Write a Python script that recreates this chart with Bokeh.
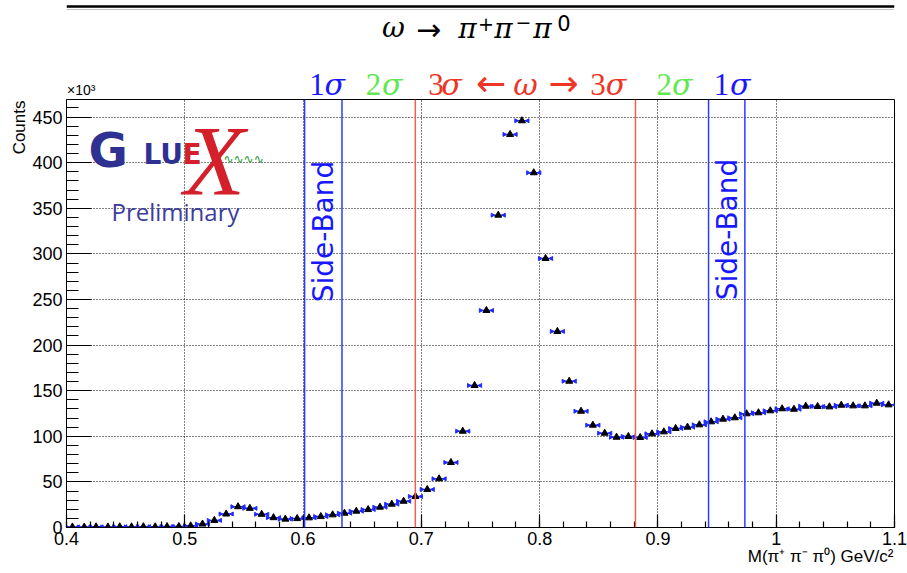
import math
import numpy as np
from bokeh.plotting import figure
from bokeh.layouts import column
from bokeh.models import Range1d, FixedTicker, Span, Label, ColumnDataSource, BoxAnnotation
from bokeh.embed import file_html
from bokeh.resources import INLINE

# ---------------- data (counts in units of 10^3) ----------------
bin_centers = [0.405, 0.415, 0.425, 0.435, 0.445, 0.455, 0.465, 0.475, 0.485, 0.495,
               0.505, 0.515, 0.525, 0.535, 0.545, 0.555, 0.565, 0.575, 0.585, 0.595,
               0.605, 0.615, 0.625, 0.635, 0.645, 0.655, 0.665, 0.675, 0.685, 0.695,
               0.705, 0.715, 0.725, 0.735, 0.745, 0.755, 0.765, 0.775, 0.785, 0.795,
               0.805, 0.815, 0.825, 0.835, 0.845, 0.855, 0.865, 0.875, 0.885, 0.895,
               0.905, 0.915, 0.925, 0.935, 0.945, 0.955, 0.965, 0.975, 0.985, 0.995,
               1.005, 1.015, 1.025, 1.035, 1.045, 1.055, 1.065, 1.075, 1.085, 1.095]
counts_k = [0.6, 0.5, 0.7, 0.6, 0.8, 0.7, 0.9, 0.8, 1.0, 1.1,
            1.8, 3.8, 7.8, 14.8, 22.8, 21.0, 14.5, 10.8, 9.2, 9.8,
            10.6, 12.0, 13.9, 15.7, 17.9, 19.7, 22.3, 25.6, 28.8, 34.0,
            41.7, 53.4, 71.3, 105.6, 155.7, 238.0, 342.5, 431.0, 446.0, 389.0,
            295.0, 215.0, 160.4, 127.5, 112.2, 103.4, 99.0, 99.8, 98.7, 102.7,
            104.9, 108.6, 110.0, 112.6, 115.9, 118.8, 120.3, 124.7, 125.8, 128.0,
            130.2, 129.7, 133.0, 132.7, 132.3, 134.1, 133.4, 133.4, 136.3, 134.5]
bin_half_width = 0.005

omega_3sigma_lines = [0.6949, 0.8810]
sideband_lines = [0.6013, 0.6329, 0.9428, 0.9735]

x_ticks = [0.4, 0.5, 0.6, 0.7, 0.8, 0.9, 1.0, 1.1]
x_tick_labels = ["0.4", "0.5", "0.6", "0.7", "0.8", "0.9", "1", "1.1"]
y_ticks = [0, 50, 100, 150, 200, 250, 300, 350, 400, 450]

x_label_text = "M(π⁺ π⁻ π⁰) GeV/c²"
y_label_text = "Counts"

# ---------------- layout (page has no margin: canvas px = page px) ----------------
W, H = 907, 573
HDR_H = 105                           # header strip (overlaps the main figure by OVL px)
OVL = 8
XMIN, XMAX, YMIN, YMAX = 0.4, 1.1, 0.0, 469.3
FL, FR, FT, FB = 66, 894, 99, 527     # frame edges in page px
PX_X = (FR - FL) / (XMAX - XMIN)
PX_Y = (FB - FT) / (YMAX - YMIN)


def X(px):
    return XMIN + (px - FL) / PX_X


def Y(py):
    return YMIN + (FB - py) / PX_Y


BLUE, GREEN, RED = "#1818ff", "#5fe84f", "#ee3526"

# ---------------- header figure (page px coordinates) ----------------
hdr = figure(width=W, height=HDR_H, x_range=Range1d(FL, FR), y_range=Range1d(HDR_H, 0),
             output_backend="svg", toolbar_location=None, x_axis_type=None,
             y_axis_type=None, title=None, min_border_left=FL, min_border_right=W - FR,
             min_border_top=0, min_border_bottom=0)
hdr.outline_line_color = None
hdr.background_fill_color = "white"
hdr.border_fill_color = "white"
hdr.add_layout(BoxAnnotation(left=FL, right=FR, top=4.8, bottom=7.3, fill_color="black",
                             fill_alpha=1.0, line_color=None))
hdr.add_layout(BoxAnnotation(left=FL, right=FR, top=8.4, bottom=9.3, fill_color="#b0b0b0",
                             fill_alpha=1.0, line_color=None))


def hlab(px, py, text, size, color="black", font="DejaVu Sans", style="normal",
         align="center"):
    hdr.add_layout(Label(x=px, y=py, text=text, text_font=font, text_font_size=size,
                         text_color=color, text_align=align, text_baseline="middle",
                         text_font_style=style))


# title  ω → π⁺π⁻π⁰
hlab(393, 27, "ω", "28px", font="DejaVu Serif", style="italic")
hlab(428, 29.3, "→", "30px")
hlab(467, 27.5, "π", "28px", font="DejaVu Serif", style="italic")
hlab(485.5, 23.5, "+", "19px")
hlab(503, 27.5, "π", "28px", font="DejaVu Serif", style="italic")
hlab(523, 21, "−", "19px")
hlab(542, 27.5, "π", "28px", font="DejaVu Serif", style="italic")
hlab(563.5, 22.5, "0", "21px")
hlab(66.5, 89, "×10³", "14px", font="Liberation Sans", align="left")

# sigma labels (digits upright, greek italic), baseline ~94
DIG_Y, GRK_Y = 83.5, 84.0
for cx, txt, col in [(316.5, "1", BLUE), (373, "2", GREEN), (435.5, "3", RED),
                     (597.5, "3", RED), (663.7, "2", GREEN), (721, "1", BLUE)]:
    hlab(cx, DIG_Y, txt, "31px", col, font="Liberation Serif")
for cx, col in [(334.2, BLUE), (391.7, GREEN), (451, RED), (615.5, RED),
                (681.7, GREEN), (739.7, BLUE)]:
    hlab(cx, GRK_Y, "σ", "30px", col, font="DejaVu Serif", style="italic")
hlab(490.5, 82.5, "←", "36px", RED)
hlab(525, 84.0, "ω", "30px", RED, font="DejaVu Serif", style="italic")
hlab(563, 82.5, "→", "36px", RED)

# ---------------- main figure ----------------
p = figure(width=W, height=H - (HDR_H - OVL), x_range=Range1d(XMIN, XMAX),
           y_range=Range1d(YMIN, YMAX), output_backend="svg", toolbar_location=None,
           title=None, min_border_left=FL, min_border_right=W - FR,
           min_border_top=FT - (HDR_H - OVL), min_border_bottom=H - FB,
           styles={"margin-top": f"-{OVL}px"})
p.background_fill_color = "white"
p.border_fill_color = "white"
p.border_fill_alpha = 0.0
p.outline_line_color = "black"
p.outline_line_width = 1

x_minor = [round(0.4 + 0.02 * i, 2) for i in range(36)]
y_minor = [10 * i for i in range(47)]
p.xaxis.ticker = FixedTicker(ticks=x_ticks, minor_ticks=x_minor)
p.yaxis.ticker = FixedTicker(ticks=y_ticks, minor_ticks=y_minor)
p.xaxis.major_label_overrides = {t: l for t, l in zip(x_ticks, x_tick_labels)}
for ax in (p.xaxis, p.yaxis):
    ax.major_tick_out = 0
    ax.minor_tick_out = 0
    ax.axis_line_color = "black"
    ax.major_tick_line_color = "black"
    ax.minor_tick_line_color = "black"
    ax.major_tick_line_width = 1.2
    ax.minor_tick_line_width = 1.2
    ax.major_label_text_font = "Liberation Sans"
    ax.major_label_text_font_size = "18px"
    ax.major_label_text_color = "black"
    ax.major_label_standoff = 4
p.xaxis.major_tick_in = 13
p.xaxis.minor_tick_in = 6
p.yaxis.major_tick_in = 25
p.yaxis.minor_tick_in = 12

p.xgrid.ticker = FixedTicker(ticks=x_ticks)
p.ygrid.ticker = FixedTicker(ticks=y_ticks)
p.grid.grid_line_color = "black"
p.grid.grid_line_dash = "1 2"
p.grid.grid_line_width = 1

for xv in omega_3sigma_lines:
    p.add_layout(Span(location=xv, dimension="height", line_color="#f0604d", line_width=1.5))
for xv in sideband_lines:
    p.add_layout(Span(location=xv, dimension="height", line_color="#2a3cff", line_width=1.5))

xs = np.array(bin_centers)
ys = np.array(counts_k)
src = ColumnDataSource(dict(x=xs, y=ys, x0=xs - bin_half_width, x1=xs + bin_half_width))
p.segment(x0="x0", x1="x1", y0="y", y1="y", source=src, line_color="#1e2aff", line_width=1.5)
p.scatter(x="x0", y="y", source=src, marker="triangle", angle=-math.pi / 2, size=4,
          fill_color="#1e2aff", line_color="#1e2aff")
p.scatter(x="x1", y="y", source=src, marker="triangle", angle=math.pi / 2, size=4,
          fill_color="#1e2aff", line_color="#1e2aff")
p.scatter(x="x", y="y", source=src, marker="triangle", size=7,
          fill_color="black", line_color="black")


def lab(px, py, text, size, color="black", font="Liberation Sans", align="left",
        style="normal", angle=0.0, place="center"):
    p.add_layout(Label(x=X(px), y=Y(py), text=text, text_font=font,
                       text_font_size=size, text_color=color, text_align=align,
                       text_baseline="middle", text_font_style=style, angle=angle), place)


# axis titles in the side panels (not clipped there)
lab(893, 556, x_label_text, "17px", align="right", place="below")
lab(19, 100, y_label_text, "17px", align="right", angle=math.pi / 2, place="left")

# side-band labels
lab(323, 231, "Side-Band", "28px", BLUE, "DejaVu Sans", "center", angle=math.pi / 2)
lab(727, 229, "Side-Band", "28px", BLUE, "DejaVu Sans", "center", angle=math.pi / 2)

# GlueX logo
lab(88, 149, "G", "48px", "#2e3192", "DejaVu Sans", style="bold")
lab(143, 153.5, "LU", "28px", "#2e3192", "DejaVu Sans", style="bold")
lab(182, 153.5, "E", "28px", "#d4202a", "DejaVu Sans", style="bold")
lab(214, 160, "X", "100px", "#d4202a", "Liberation Serif", "center", style="italic")
lab(223, 158, "∿∿∿∿", "12px", "#2a9a3a", "DejaVu Sans")
lab(175, 211, "Preliminary", "24px", "#3c3c9c", "Open Sans", "center")

layout = column(hdr, p, spacing=0)
open("out.html", "w").write(file_html(layout, INLINE))
